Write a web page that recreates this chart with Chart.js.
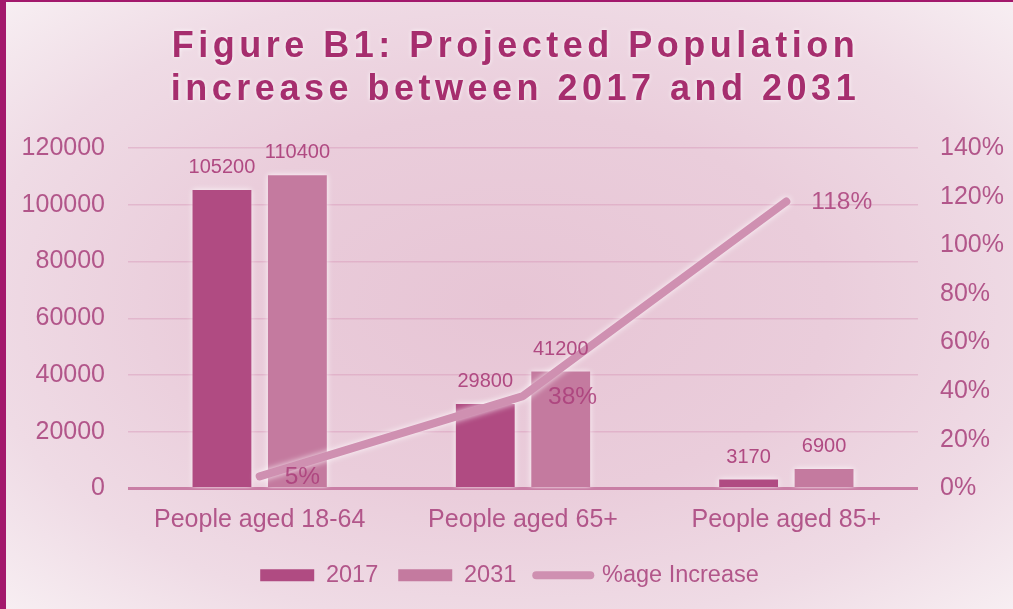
<!DOCTYPE html>
<html>
<head>
<meta charset="utf-8">
<script src="https://cdn.jsdelivr.net/npm/chart.js@4"></script>
<style>
  html, body { margin: 0; padding: 0; }
  body { width: 1013px; height: 609px; overflow: hidden; background: #a3186c; }
  #frame {
    position: absolute; left: 6px; top: 2px; width: 1007px; height: 607px;
    background: radial-gradient(ellipse at 50% 50%, #e7c5d5 0%, #eacddb 45%, #efdbe5 75%, #f7eef2 100%);
  }
  canvas { display: block; }
</style>
</head>
<body>
<div id="frame"><canvas id="grafico" width="1007" height="607"></canvas></div>
<script>
  // Datos del gráfico
  const titulo = ['Figure B1: Projected Population', 'increase between 2017 and 2031'];
  const categorias = ['People aged 18-64', 'People aged 65+', 'People aged 85+'];
  const pob2017 = [105200, 29800, 3170];
  const pob2031 = [110400, 41200, 6900];
  const incremento = [5, 38, 118];
  const ticksIzq = [0, 20000, 40000, 60000, 80000, 100000, 120000];
  const ticksDer = [0, 20, 40, 60, 80, 100, 120, 140];

  const rosaTexto = '#b2568a';
  const fuente = '"Liberation Sans", Arial, sans-serif';

  // Título con espaciado entre letras
  const tituloPlugin = {
    id: 'tituloPlugin',
    afterDraw(chart) {
      const ctx = chart.ctx;
      ctx.save();
      ctx.font = 'bold 36px ' + fuente;
      ctx.letterSpacing = '4.5px';
      ctx.textAlign = 'center';
      ctx.textBaseline = 'middle';
      ctx.fillStyle = '#a62e6e';
      ctx.shadowColor = 'rgba(255,255,255,0.9)';
      ctx.shadowBlur = 4;
      titulo.forEach((linea, i) => {
        ctx.fillText(linea, chart.width / 2 + 6, 45 + i * 43);
      });
      ctx.restore();
    }
  };

  // Brillo blanco alrededor de barras y línea
  const brilloPlugin = {
    id: 'brilloPlugin',
    beforeDatasetsDraw(chart) {
      chart.ctx.save();
      chart.ctx.shadowColor = 'rgba(255,255,255,0.85)';
      chart.ctx.shadowBlur = 6;
    },
    afterDatasetsDraw(chart) {
      chart.ctx.restore();
    }
  };

  // Etiquetas de valores
  const etiquetasPlugin = {
    id: 'etiquetasPlugin',
    afterDatasetsDraw(chart) {
      const ctx = chart.ctx;
      ctx.save();
      chart.data.datasets.forEach((ds, i) => {
        const meta = chart.getDatasetMeta(i);
        meta.data.forEach((el, j) => {
          if (ds.type === 'line') {
            ctx.font = '24.5px ' + fuente;
            ctx.fillStyle = 'rgba(170,62,122,0.85)';
            ctx.textAlign = 'left';
            ctx.textBaseline = 'middle';
            ctx.fillText(ds.data[j] + '%', el.x + 25, el.y + 1);
          } else {
            ctx.font = '20px ' + fuente;
            ctx.fillStyle = '#b04a82';
            ctx.textAlign = 'center';
            ctx.textBaseline = 'alphabetic';
            ctx.fillText(ds.data[j], el.x, el.y - 17);
          }
        });
      });
      ctx.restore();
    }
  };

  const ctx = document.getElementById('grafico').getContext('2d');
  const grafico = new Chart(ctx, {
    type: 'bar',
    data: {
      labels: categorias,
      datasets: [
        {
          label: '2017',
          data: pob2017,
          backgroundColor: '#b04b82',
          yAxisID: 'y',
          order: 1,
          categoryPercentage: 0.573,
          barPercentage: 0.78,
        },
        {
          label: '2031',
          data: pob2031,
          backgroundColor: '#c47a9f',
          yAxisID: 'y',
          order: 1,
          categoryPercentage: 0.573,
          barPercentage: 0.78,
        },
        {
          type: 'line',
          label: '%age Increase',
          data: incremento,
          borderColor: '#cf90b1',
          backgroundColor: '#cf90b1',
          borderWidth: 8,
          borderCapStyle: 'round',
          borderJoinStyle: 'round',
          pointRadius: 0,
          tension: 0,
          yAxisID: 'y2',
          order: 0,
        },
      ],
    },
    options: {
      responsive: false,
      animation: false,
      layout: { padding: { top: 146, bottom: 12, left: 0, right: 0 } },
      plugins: {
        title: { display: false },
        tooltip: { enabled: false },
        legend: {
          position: 'bottom',
          labels: {
            color: rosaTexto,
            font: { size: 23.5, family: fuente },
            usePointStyle: true,
            pointStyleWidth: 54,
            boxHeight: 12,
            padding: 20,
            generateLabels(chart) {
              return chart.data.datasets.map((ds, i) => ({
                text: ds.label,
                datasetIndex: i,
                fillStyle: ds.backgroundColor,
                strokeStyle: ds.type === 'line' ? ds.borderColor : ds.backgroundColor,
                lineWidth: ds.type === 'line' ? 8 : 0,
                lineCap: 'round',
                pointStyle: ds.type === 'line' ? 'line' : 'rect',
                fontColor: rosaTexto,
              }));
            },
          },
        },
      },
      scales: {
        x: {
          grid: { display: false, drawTicks: false },
          border: { display: false },
          ticks: {
            color: rosaTexto,
            padding: 17,
            font: { size: 25, family: fuente },
          },
          afterFit(scale) { scale.height = 55; },
        },
        y: {
          position: 'left',
          min: 0,
          max: 120000,
          afterBuildTicks(scale) { scale.ticks = ticksIzq.map(v => ({ value: v })); },
          grid: {
            drawTicks: false,
            color: c => (c.tick && c.tick.value === 0 ? '#c97ea5' : 'rgba(214,150,184,0.45)'),
            lineWidth: c => (c.tick && c.tick.value === 0 ? 3 : 1.5),
          },
          border: { display: false },
          ticks: {
            color: rosaTexto,
            padding: 23,
            font: { size: 25, family: fuente },
            callback: v => String(v),
          },
          afterFit(scale) { scale.width = 122; },
        },
        y2: {
          position: 'right',
          min: 0,
          max: 140,
          afterBuildTicks(scale) { scale.ticks = ticksDer.map(v => ({ value: v })); },
          grid: { display: false, drawTicks: false },
          border: { display: false },
          ticks: {
            color: rosaTexto,
            padding: 22,
            font: { size: 25, family: fuente },
            callback: v => v + '%',
          },
          afterFit(scale) { scale.width = 95; },
        },
      },
    },
    plugins: [tituloPlugin, brilloPlugin, etiquetasPlugin],
  });
</script>
</body>
</html>
